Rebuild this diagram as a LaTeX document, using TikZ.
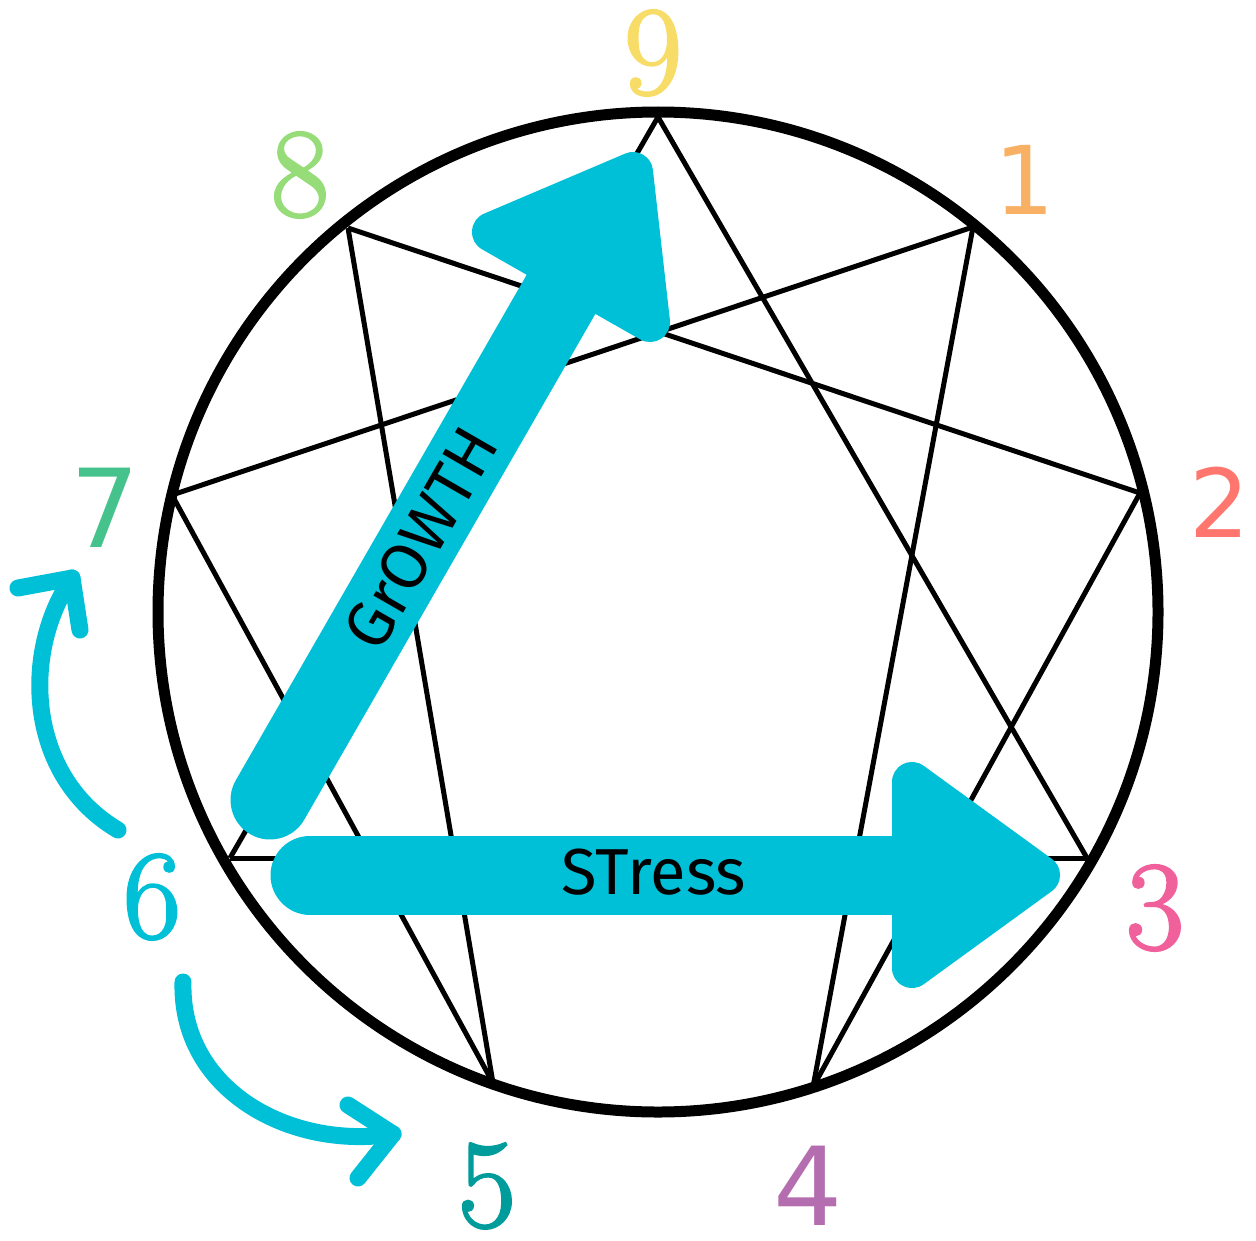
\documentclass[tikz,border=0pt]{standalone}
\usepackage{fontspec}
\usepackage{xcolor}
\usepackage{tikz}
\usetikzlibrary{calc}
\newfontfamily\digitsans{DejaVu Sans}
\newfontfamily\digitserif[FakeBold=2]{Latin Modern Roman}
\newfontfamily\wordfont{Fira Sans}
\definecolor{enncyan}{HTML}{00C0D8}
\definecolor{ennone}{HTML}{F8B064}
\definecolor{enntwo}{HTML}{FF766E}
\definecolor{ennthree}{HTML}{F0609A}
\definecolor{ennfour}{HTML}{B46EAF}
\definecolor{ennfive}{HTML}{009B9B}
\definecolor{ennseven}{HTML}{46C38C}
\definecolor{enneight}{HTML}{96DC78}
\definecolor{ennnine}{HTML}{F8DC68}

\begin{document}
\begin{tikzpicture}[
    x=0.02cm, y=-0.02cm,
    ring/.style={line width=0.22cm},
    chord/.style={line width=0.1cm},
    shaft/.style={enncyan, line width=1.58cm, line cap=round},
    head/.style={fill=enncyan, draw=enncyan, line width=0.8cm, line join=round},
    hook/.style={enncyan, line width=0.34cm, line cap=round, line join=round},
    numserif/.style={font=\digitserif\fontsize{72}{72}\selectfont, inner sep=0pt},
    numsans/.style={font=\digitsans\fontsize{54}{54}\selectfont, inner sep=0pt},
    numsansbig/.style={font=\digitsans\fontsize{62}{62}\selectfont, inner sep=0pt},
    word/.style={font=\wordfont\fontsize{37}{37}\selectfont, inner sep=0pt},
  ]
  \useasboundingbox (0,0) rectangle (1256,1240);

  % --- points on the ring ---
  \coordinate (p9) at (658,117);
  \coordinate (p1) at (973,227);
  \coordinate (p2) at (1140,493);
  \coordinate (p3) at (1087,858);
  \coordinate (p4) at (813,1087);
  \coordinate (p5) at (493,1083);
  \coordinate (p6) at (230,858);
  \coordinate (p7) at (172,495);
  \coordinate (p8) at (348,228);

  % --- ring and lines ---
  \draw[ring] (658,612) circle [radius=500];
  \foreach \a/\b in {9/3,3/6,6/9,1/4,4/2,2/8,8/5,5/7,7/1}
    \draw[chord] (p\a) -- (p\b);

  % --- growth arrow ---
  \coordinate (gtail) at (270,800);
  \coordinate (gbase) at (571,277);
  \draw[shaft] (gtail) -- (gbase);
  \filldraw[head] (492,232) -- (633,172) -- (650,322) -- cycle;
  \node[word, rotate=60] (growth) at (421,538) {GrOWTH};

  % --- stress arrow ---
  \coordinate (stail) at (310,875);
  \coordinate (sbase) at (912,875);
  \draw[shaft] (stail) -- (sbase);
  \filldraw[head] (912,782) -- (1040,875) -- (912,968) -- cycle;
  \node[word] (stress) at (654,872) {STress};

  % --- wing arrows ---
  \coordinate (u0) at (118,830);
  \coordinate (u1) at (72,578);
  \draw[hook] (u0) .. controls (25,775) and (22,650) .. (u1);
  \draw[hook] (18,588) -- (u1) -- (80,630);
  \coordinate (l0) at (183,982);
  \coordinate (l1) at (393,1134);
  \draw[hook] (l0) .. controls (180,1090) and (290,1150) .. (l1);
  \draw[hook] (348,1105) -- (l1) -- (358,1178);

  % --- numbers ---
  \node[numserif, text=ennnine]  (n9) at (653,53)   {9};
  \node[numsans, text=ennone]    (n1) at (1025,180) {1};
  \node[numsans, text=enntwo]    (n2) at (1220,502) {2};
  \node[numserif, text=ennthree] (n3) at (1155,908) {3};
  \node[numsansbig, text=ennfour] (n4) at (808,1186) {4};
  \node[numserif, text=ennfive]  (n5) at (487,1186) {5};
  \node[numserif, text=enncyan]  (n6) at (152,897)  {6};
  \node[numsansbig, text=ennseven] (n7) at (105,508) {7};
  \node[numserif, text=enneight] (n8) at (300,175)  {8};

\end{tikzpicture}
\end{document}
